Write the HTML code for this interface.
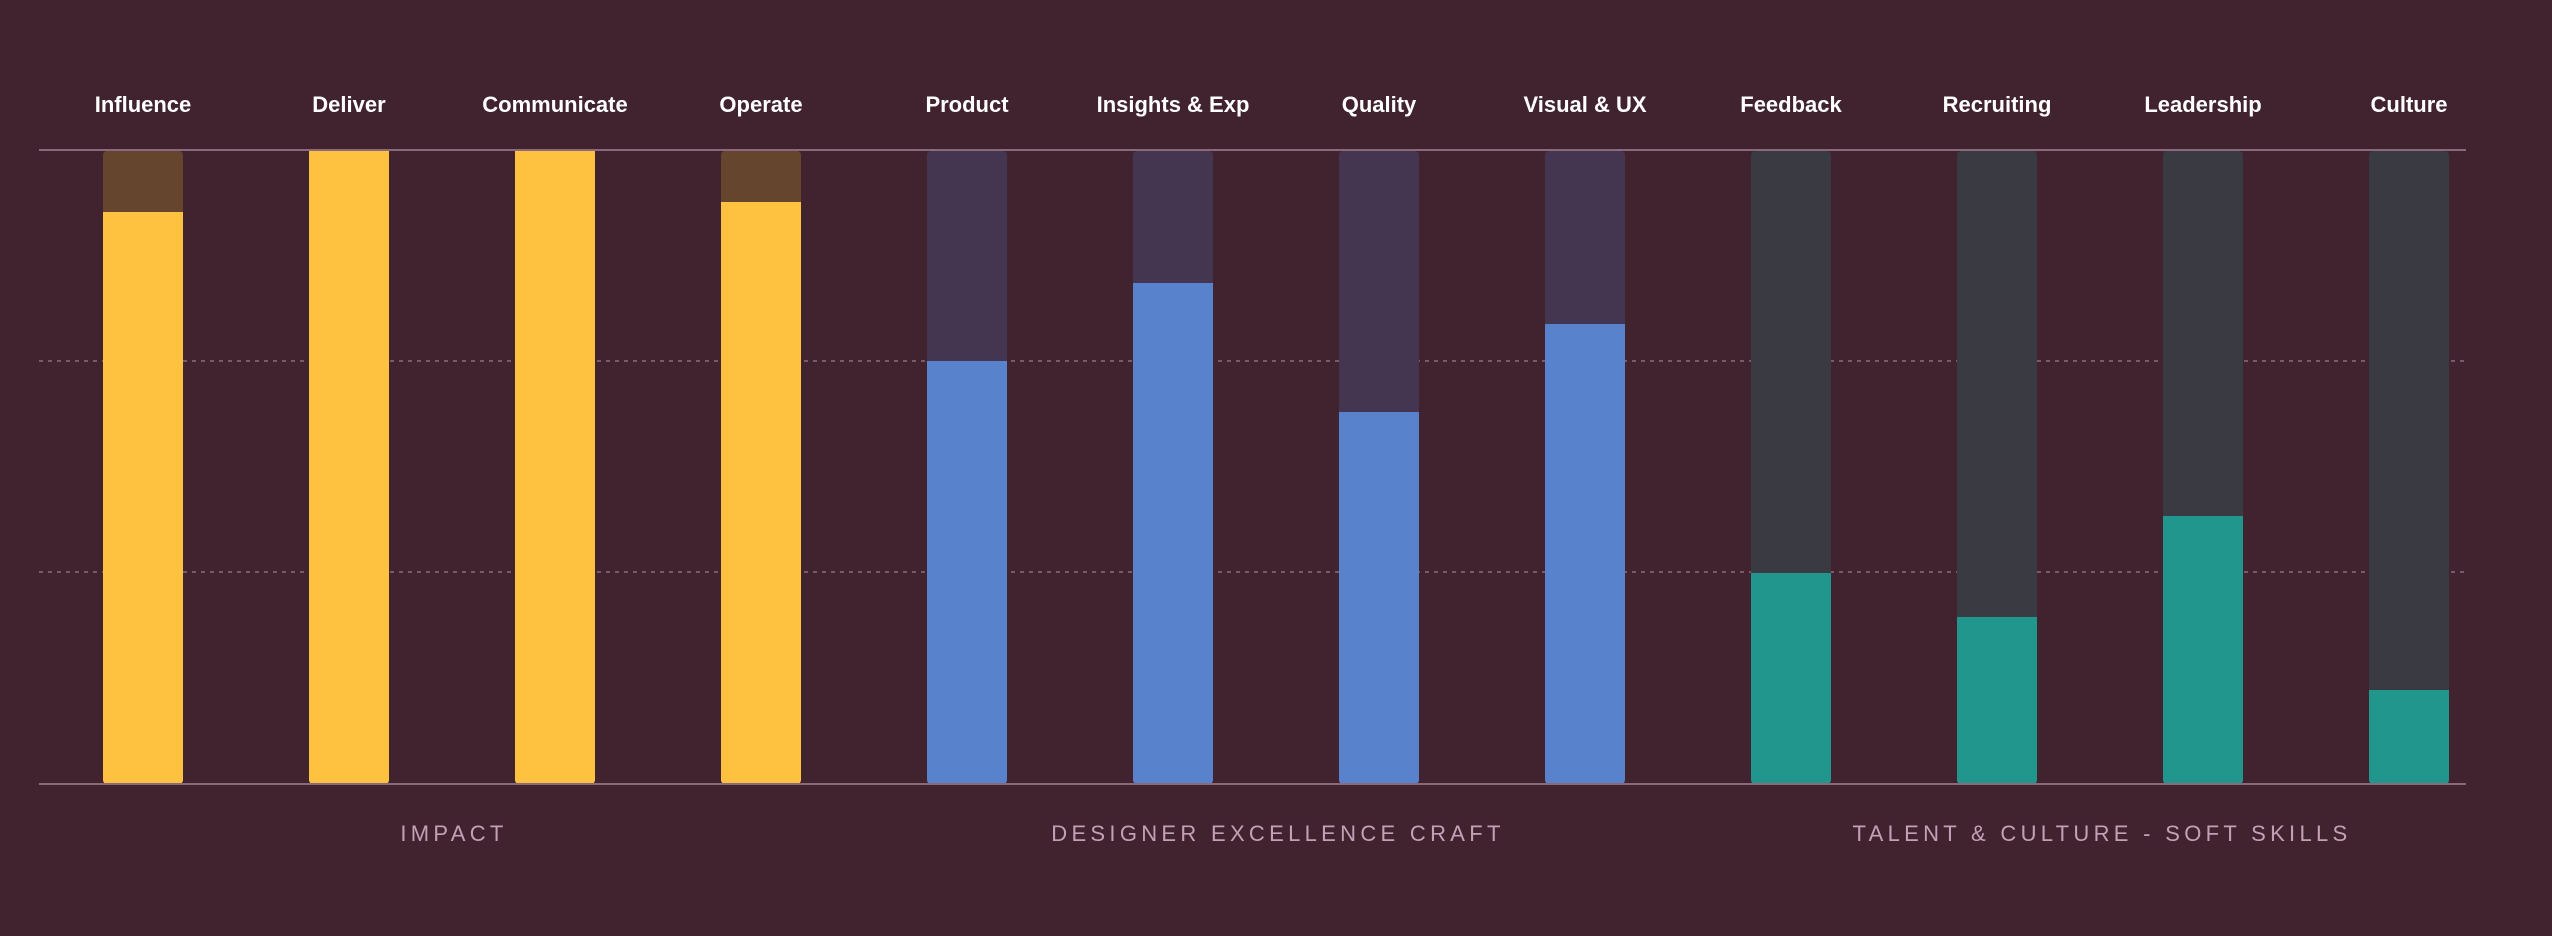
<!DOCTYPE html>
<html><head><meta charset="utf-8"><style>
html,body{margin:0;padding:0;background:#40232f;}
svg{display:block}
text{font-family:"Liberation Sans",sans-serif;}
</style></head><body>
<svg width="2552" height="936" viewBox="0 0 2552 936" xmlns="http://www.w3.org/2000/svg">
<rect width="2552" height="936" fill="#40232f"/>
<g stroke="#7a5a6a" stroke-width="2" stroke-dasharray="4,5">
<line x1="39" y1="361" x2="2466" y2="361"/>
<line x1="39" y1="572" x2="2466" y2="572"/>
</g>
<g fill="#66452f">
<rect x="103" y="151" width="80" height="633" rx="4"/>
<rect x="721" y="151" width="80" height="633" rx="4"/>
</g>
<g fill="#443650">
<rect x="927" y="151" width="80" height="633" rx="4"/>
<rect x="1133" y="151" width="80" height="633" rx="4"/>
<rect x="1339" y="151" width="80" height="633" rx="4"/>
<rect x="1545" y="151" width="80" height="633" rx="4"/>
</g>
<g fill="#393a42">
<rect x="1751" y="151" width="80" height="633" rx="4"/>
<rect x="1957" y="151" width="80" height="633" rx="4"/>
<rect x="2163" y="151" width="80" height="633" rx="4"/>
<rect x="2369" y="151" width="80" height="633" rx="4"/>
</g>
<g fill="#fec240">
<path d="M103 212h80v568a4 4 0 0 1 -4 4h-72a4 4 0 0 1 -4 -4z"/>
<path d="M309 151h80v629a4 4 0 0 1 -4 4h-72a4 4 0 0 1 -4 -4z"/>
<path d="M515 151h80v629a4 4 0 0 1 -4 4h-72a4 4 0 0 1 -4 -4z"/>
<path d="M721 202h80v578a4 4 0 0 1 -4 4h-72a4 4 0 0 1 -4 -4z"/>
</g>
<g fill="#5882cc">
<path d="M927 361h80v419a4 4 0 0 1 -4 4h-72a4 4 0 0 1 -4 -4z"/>
<path d="M1133 283h80v497a4 4 0 0 1 -4 4h-72a4 4 0 0 1 -4 -4z"/>
<path d="M1339 412h80v368a4 4 0 0 1 -4 4h-72a4 4 0 0 1 -4 -4z"/>
<path d="M1545 324h80v456a4 4 0 0 1 -4 4h-72a4 4 0 0 1 -4 -4z"/>
</g>
<g fill="#21968d">
<path d="M1751 573h80v207a4 4 0 0 1 -4 4h-72a4 4 0 0 1 -4 -4z"/>
<path d="M1957 617h80v163a4 4 0 0 1 -4 4h-72a4 4 0 0 1 -4 -4z"/>
<path d="M2163 516h80v264a4 4 0 0 1 -4 4h-72a4 4 0 0 1 -4 -4z"/>
<path d="M2369 690h80v90a4 4 0 0 1 -4 4h-72a4 4 0 0 1 -4 -4z"/>
</g>
<line x1="39" y1="150" x2="2466" y2="150" stroke="#8a6a7a" stroke-width="2"/>
<line x1="39" y1="784" x2="2466" y2="784" stroke="#8a6a7a" stroke-width="2"/>
<g fill="#ffffff" font-size="22" font-weight="bold" text-anchor="middle">
<text x="143" y="112">Influence</text>
<text x="349" y="112">Deliver</text>
<text x="555" y="112">Communicate</text>
<text x="761" y="112">Operate</text>
<text x="967" y="112">Product</text>
<text x="1173" y="112">Insights &amp; Exp</text>
<text x="1379" y="112">Quality</text>
<text x="1585" y="112">Visual &amp; UX</text>
<text x="1791" y="112">Feedback</text>
<text x="1997" y="112">Recruiting</text>
<text x="2203" y="112">Leadership</text>
<text x="2409" y="112">Culture</text>
</g>
<g fill="#c4a0b6" font-size="22" letter-spacing="4.3" text-anchor="middle">
<text x="454" y="841">IMPACT</text>
<text x="1278" y="841">DESIGNER EXCELLENCE CRAFT</text>
<text x="2102" y="841">TALENT &amp; CULTURE - SOFT SKILLS</text>
</g>
</svg>
</body></html>
